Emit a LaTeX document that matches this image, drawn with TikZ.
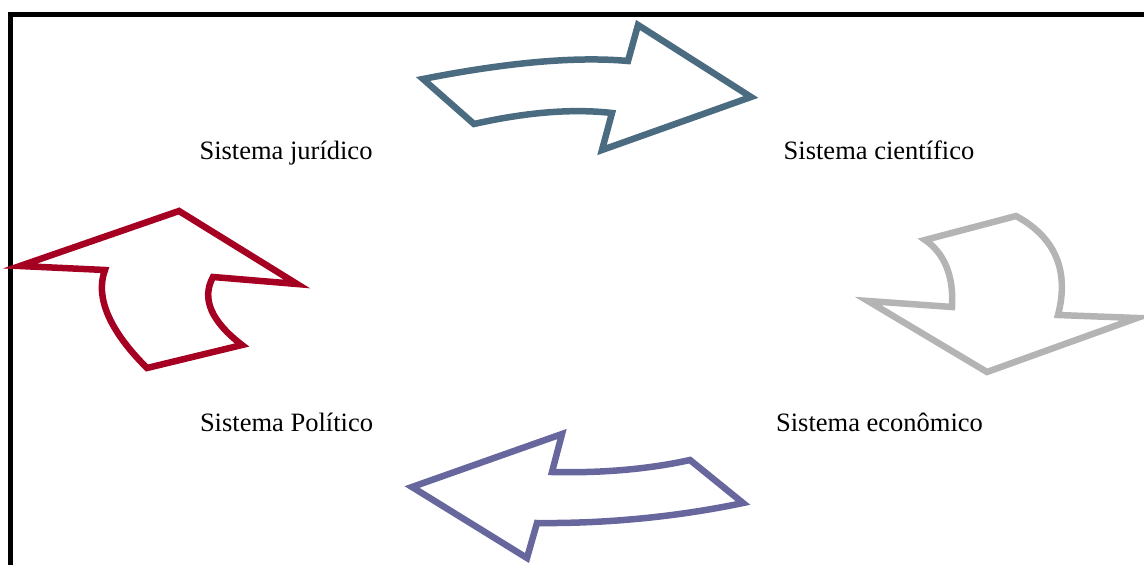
\documentclass[tikz,border=0pt]{standalone}
\usepackage{fontspec}
\setmainfont{Liberation Serif}
\definecolor{steelarrow}{HTML}{4B6B80}
\definecolor{greyarrow}{HTML}{B4B4B4}
\definecolor{redarrow}{HTML}{A50021}
\definecolor{purplearrow}{HTML}{67679E}
\begin{document}
\begin{tikzpicture}[x=1pt,y=-1pt,
  outline/.style={line width=6.5pt,line join=miter,miter limit=10},
  label/.style={font=\fontsize{26.5}{30}\selectfont,inner sep=0pt,anchor=base}]
\useasboundingbox (0,0) rectangle (1144,565);
% frame
\draw[line width=5pt] (10,567) -- (10,14) -- (1146,14);

% labels
\node[label] (jur) at (286,159.5) {Sistema jurídico};
\node[label] (cie) at (879,159.5) {Sistema científico};
\node[label] (pol) at (286.5,431.7) {Sistema Político};
\node[label] (eco) at (879.5,431.7) {Sistema econômico};

% top curved arrow, pointing right
\draw[outline,steelarrow] (423,79) .. controls (508,62.3) and (576,56.3) .. (628,61)
  -- (638,25) -- (751,97) -- (602,150) -- (612,113)
  .. controls (570.7,108.3) and (524.3,112.7) .. (474,124) -- cycle;

% right curved arrow, pointing down
\draw[outline,greyarrow] (1016,216) -- (925,240)
  .. controls (944,252.7) and (954,275.7) .. (952,307) -- (868,301) -- (987,372)
  -- (1137,318) -- (1058,315) .. controls (1069.3,271.7) and (1056,237.7) .. cycle;

% bottom curved arrow, pointing left
\draw[outline,purplearrow] (743,503) .. controls (676,517) and (605.7,523.7) .. (537,523)
  -- (527,558) -- (412,487) -- (562,434) -- (552,472)
  .. controls (604,473.3) and (650.7,468.7) .. (690,460) -- cycle;

% left curved arrow, pointing up
\draw[outline,redarrow] (147,368) .. controls (109,330.3) and (95,296.7) .. (105,270)
  -- (20,266) -- (179,211) -- (297,284) -- (213,277)
  .. controls (201,299) and (211.7,321.7) .. (242,345) -- cycle;
\end{tikzpicture}
\end{document}
